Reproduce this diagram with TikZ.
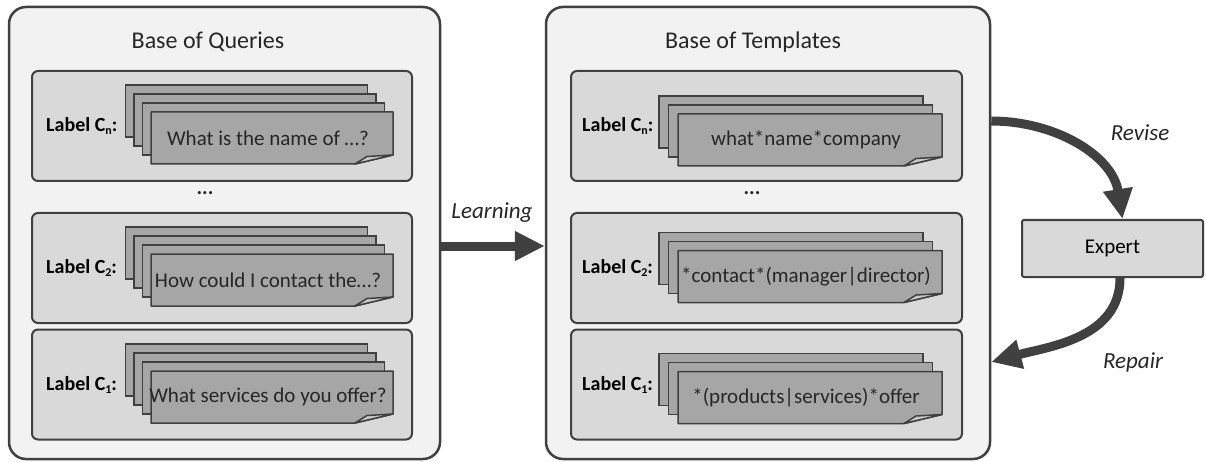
\documentclass[tikz,border=0pt]{standalone}
\usepackage{fontspec}
\setmainfont{Carlito}
\usepackage{tikz}
\usetikzlibrary{positioning, arrows.meta, calc}
\definecolor{cPanel}{RGB}{242,242,242}
\definecolor{cGroup}{RGB}{217,217,217}
\definecolor{cSheet}{RGB}{166,166,166}
\definecolor{cFlap}{RGB}{200,200,200}
\definecolor{cLine}{RGB}{64,64,64}

% small subscript of the labels
\newcommand{\lsub}[1]{\raisebox{-3pt}{\fontsize{12}{12}\selectfont #1}}

% stack of sheets: name, front left x, front centre y, back sheets, step x, width, text
\newcommand{\sheetstack}[7]{%
  \foreach \k in {#4,...,1}
    \node[sheet, minimum width=#6pt] (#1-\k) at (#2+#6/2-\k*#5, #3+\k*9) {};
  \filldraw[sheetline, fill=cSheet] (#2,#3+26) -- (#2+#6,#3+26) -- (#2+#6,#3-17)
      -- (#2+#6-38,#3-26) -- (#2,#3-26) -- cycle;
  \filldraw[sheetline, fill=cFlap] (#2+#6-38,#3-26) -- (#2+#6-26,#3-18.5) -- (#2+#6,#3-17) -- cycle;
  \node[sheet text] (#1) at (#2+#6/2-4,#3) {#7};
}

\begin{document}
\begin{tikzpicture}[x=1pt, y=1pt,
    panel/.style={draw=cLine, fill=cPanel, line width=2.5pt, rounded corners=17pt, inner sep=0pt, minimum height=452pt},
    group/.style={draw=cLine, fill=cGroup, line width=2pt, rounded corners=6pt, inner sep=0pt, minimum height=110pt},
    sheet/.style={draw=cLine, fill=cSheet, line width=1.5pt, inner sep=0pt, minimum height=52pt},
    sheetline/.style={draw=cLine, line width=1.5pt, line join=round},
    sheet text/.style={font=\fontsize{21}{25}\selectfont, text=black!85},
    title/.style={font=\fontsize{24}{28}\selectfont, text=black!85},
    tag/.style={font=\bfseries\fontsize{20}{24}\selectfont, inner sep=0pt, anchor=west},
    note/.style={font=\itshape\fontsize{23}{27}\selectfont, text=black!85},
    expertbox/.style={draw=cLine, fill=cGroup, line width=2pt, rounded corners=2pt,
                      minimum width=181pt, minimum height=57pt, font=\fontsize{21}{25}\selectfont},
    flow/.style={draw=cLine, line width=9pt, -{Triangle[length=30pt, width=28pt]}}]
    \useasboundingbox (0,0) rectangle (1206,461);

    % Panels
    \node[panel, minimum width=431pt] (queries) at (224.5,228) {};
    \node[panel, minimum width=444pt] (templates) at (768,228) {};
    \node[title] (queries-title) at (208,419) {Base of Queries};
    \node[title] (templates-title) at (753,419) {Base of Templates};
    \node[sheet text, font=\bfseries\fontsize{21}{25}\selectfont] (queries-dots) at (205,268) {...};
    \node[sheet text, font=\bfseries\fontsize{21}{25}\selectfont] (templates-dots) at (752,268) {...};

    % Label groups
    \node[group, minimum width=380pt] (qn) at (222,335) {};
    \node[group, minimum width=380pt] (q2) at (222,193) {};
    \node[group, minimum width=380pt] (q1) at (222,76.5) {};
    \node[group, minimum width=391pt] (tn) at (766.5,335) {};
    \node[group, minimum width=391pt] (t2) at (766.5,193) {};
    \node[group, minimum width=391pt] (t1) at (766.5,76.5) {};

    \node[tag] (qn-tag) at (46,335) {Label C\lsub{n}:};
    \node[tag] (q2-tag) at (46,193) {Label C\lsub{2}:};
    \node[tag] (q1-tag) at (46,76.5) {Label C\lsub{1}:};
    \node[tag] (tn-tag) at (582,335) {Label C\lsub{n}:};
    \node[tag] (t2-tag) at (582,193) {Label C\lsub{2}:};
    \node[tag] (t1-tag) at (582,76.5) {Label C\lsub{1}:};

    % Sheets
    \sheetstack{qn-doc}{151}{323}{3}{8.5}{242}{What is the name of …?}
    \sheetstack{q2-doc}{151}{181}{3}{8.5}{242}{How could I contact the…?}
    \sheetstack{q1-doc}{151}{64}{3}{8.5}{242}{What services do you offer?}
    \sheetstack{tn-doc}{678}{321}{2}{9.5}{264}{what*name*company}
    \sheetstack{t2-doc}{678}{184.5}{2}{9.5}{264}{*contact*(manager|director)}
    \sheetstack{t1-doc}{678}{63.5}{2}{9.5}{264}{*(products|services)*offer}

    % Expert loop
    \node[expertbox] (expert) at (1112.5,212.5) {Expert};
    \node[note] (learning) at (492,248) {Learning};
    \node[note] (revise) at (1140,328) {Revise};
    \node[note] (repair) at (1133,99) {Repair};

    \draw[flow] ([yshift=-13pt]queries.east) -- ([yshift=-13pt]templates.west);
    \draw[flow] ([yshift=112pt]templates.east) to[out=0, in=99] ([xshift=10pt]expert.north);
    \draw[flow] ([xshift=7.5pt]expert.south) to[out=-90, in=15] ([yshift=-129pt]templates.east);
\end{tikzpicture}
\end{document}
